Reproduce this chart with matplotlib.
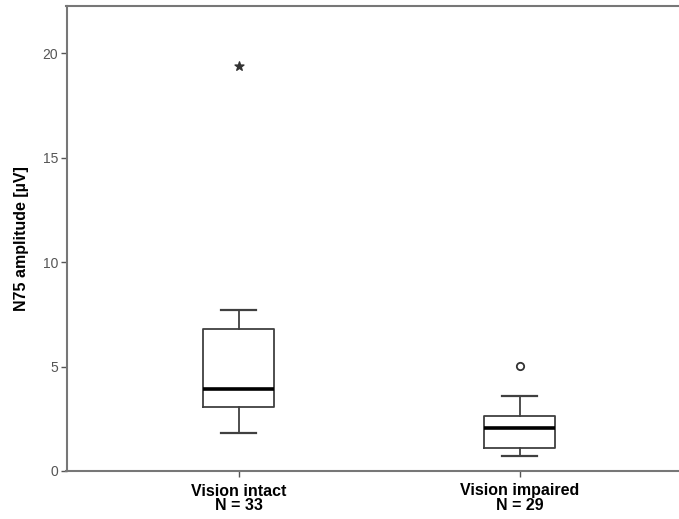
import matplotlib
matplotlib.use("Agg")
import matplotlib.pyplot as plt

plt.rcParams['font.family'] = ['Liberation Sans', 'DejaVu Sans']

groups = ["Vision intact\nN = 33", "Vision impaired\nN = 29"]
whislo = [1.82, 0.72]
q1 = [3.06, 1.09]
med = [3.92, 2.07]
q3 = [6.78, 2.65]
whishi = [7.70, 3.59]
outliers = [[], [5.04]]
extremes = [[19.4], []]
yticks = [0, 5, 10, 15, 20]

fig = plt.figure(figsize=(6.79, 5.19), dpi=100)
ax = fig.add_axes([66.5/679, 1-471/519, 1-66.5/679, (471-6)/519])

stats = []
for i in range(len(groups)):
    stats.append(dict(label=groups[i], whislo=whislo[i], q1=q1[i], med=med[i],
                      q3=q3[i], whishi=whishi[i], fliers=[]))
positions = [1, 2]
ax.bxp(stats, positions=positions, widths=0.253, showfliers=False,
       boxprops=dict(color='#404040', linewidth=1.3),
       whiskerprops=dict(color='#404040', linewidth=1.3),
       capprops=dict(color='#404040', linewidth=1.6),
       medianprops=dict(color='black', linewidth=2.6),
       capwidths=0.125)

for p, vals in zip(positions, outliers):
    if vals:
        ax.scatter([p]*len(vals), vals, s=28, facecolors='white',
                   edgecolors='#333333', linewidths=1.3, zorder=3)
for p, vals in zip(positions, extremes):
    if vals:
        ax.scatter([p]*len(vals), vals, s=45, marker='*', color='#333333', zorder=3)

ax.set_ylim(0, 22.25)
ax.set_xlim(1 - (238.5-66.5)/281, 2 + (679-520)/281)
ax.set_yticks(yticks)
ax.set_yticklabels([str(t) for t in yticks], color='#555555', fontsize=10)
ax.set_xticks(positions)
ax.set_xticklabels(groups, fontsize=11.5, fontweight='bold', color='black',
                   linespacing=1.0)
ax.tick_params(axis='y', length=4, color='#555555', width=1, pad=2)
ax.tick_params(axis='x', length=4, color='#555555', width=1, pad=5)

for s in ['left', 'bottom', 'top']:
    ax.spines[s].set_color('#777777')
    ax.spines[s].set_linewidth(1.5)
ax.spines['right'].set_visible(False)

ax.set_ylabel("N75 amplitude [µV]", fontsize=11.5, fontweight='bold', labelpad=10)

fig.savefig("out.png", dpi=100)
